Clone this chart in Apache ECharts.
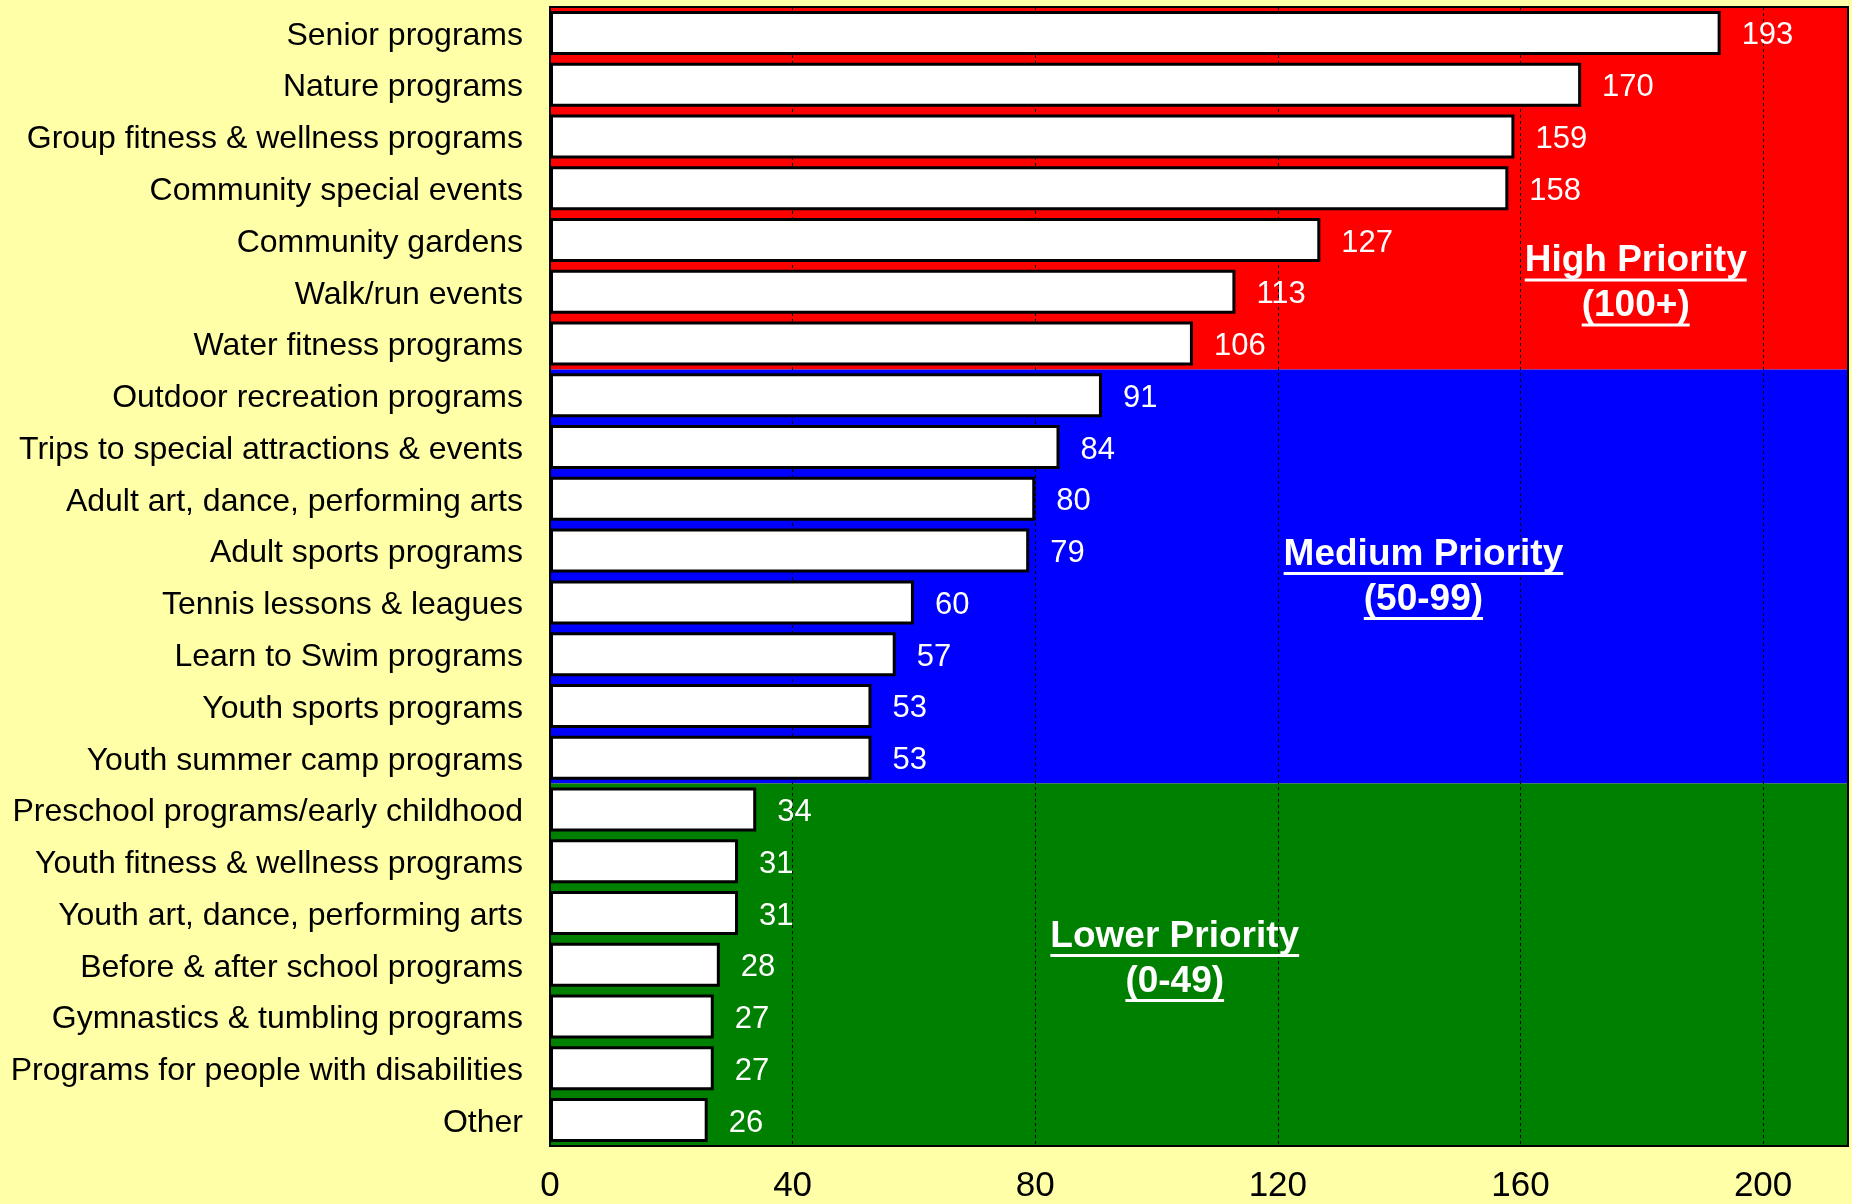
<!DOCTYPE html>
<html>
<head>
<meta charset="utf-8">
<script src="https://cdn.jsdelivr.net/npm/echarts@6/dist/echarts.min.js"></script>
<style>
  html, body { margin: 0; padding: 0; background: #ffffa8; }
  #chart { width: 1852px; height: 1204px; }
</style>
</head>
<body>
<div id="chart"></div>
<script>
const categories = [
  'Senior programs',
  'Nature programs',
  'Group fitness & wellness programs',
  'Community special events',
  'Community gardens',
  'Walk/run events',
  'Water fitness programs',
  'Outdoor recreation programs',
  'Trips to special attractions & events',
  'Adult art, dance, performing arts',
  'Adult sports programs',
  'Tennis lessons & leagues',
  'Learn to Swim programs',
  'Youth sports programs',
  'Youth summer camp programs',
  'Preschool programs/early childhood',
  'Youth fitness & wellness programs',
  'Youth art, dance, performing arts',
  'Before & after school programs',
  'Gymnastics & tumbling programs',
  'Programs for people with disabilities',
  'Other'
]
const counts = [193, 170, 159, 158, 127, 113, 106, 91, 84, 80, 79, 60, 57, 53, 53, 34, 31, 31, 28, 27, 27, 26]
const xTicks = [0, 40, 80, 120, 160, 200]
const axisMax = 214
const zoneTitles = ['High Priority', 'Medium Priority', 'Lower Priority']
const zoneRanges = ['(100+)', '(50-99)', '(0-49)']
const zoneFloors = [100, 50, 0]

const zoneColors = ['#ff0000', '#0000ff', '#008000']
const font = '"Liberation Sans", Arial, sans-serif'

const zoneOf = v => zoneFloors.findIndex(f => v >= f)

// row spans of each priority zone (rows are in sorted order)
const zoneAreas = zoneFloors.map((f, i) => {
  const rows = counts.map((v, r) => zoneOf(v) === i ? r : -1).filter(r => r >= 0)
  return [
    { xAxis: 0, yAxis: rows[0], itemStyle: { color: zoneColors[i], opacity: 1 } },
    { xAxis: axisMax, yAxis: rows[rows.length - 1] + 1 }
  ]
})

const chart = echarts.init(document.getElementById('chart'))
chart.setOption({
  backgroundColor: '#ffffa8',
  animation: false,
  grid: {
    left: 550,
    right: 4,
    top: 7,
    bottom: 58,
    show: true,
    backgroundColor: 'transparent',
    borderColor: '#000',
    borderWidth: 2,
    z: 10
  },
  xAxis: {
    type: 'value',
    min: 0,
    max: axisMax,
    interval: 40,
    z: 2,
    axisLine: { show: false },
    axisTick: { show: false },
    axisLabel: {
      color: '#000',
      fontSize: 35,
      fontFamily: font,
      margin: 23,
      formatter: v => xTicks.includes(v) ? String(v) : ''
    },
    splitLine: {
      lineStyle: { color: '#000', width: 1, type: [3, 3] }
    }
  },
  yAxis: [{
    type: 'category',
    data: categories,
    inverse: true,
    axisLine: { show: false },
    axisTick: { show: false },
    splitLine: { show: false },
    axisLabel: {
      interval: 0,
      color: '#000',
      fontSize: 32,
      fontFamily: font,
      margin: 27,
      verticalAlign: 'top',
      lineHeight: 6
    }
  }, {
    // row index axis for the priority bands
    type: 'value',
    min: 0,
    max: categories.length,
    inverse: true,
    show: false
  }],
  series: [{
    type: 'line',
    xAxisIndex: 0,
    yAxisIndex: 1,
    data: [],
    silent: true,
    z: 1,
    markArea: { silent: true, data: zoneAreas }
  }, {
    type: 'bar',
    yAxisIndex: 0,
    barWidth: '85%',
    z: 3,
    data: counts,
    itemStyle: {
      color: '#ffffff',
      borderColor: '#000',
      borderWidth: 3
    },
    label: {
      show: true,
      position: 'right',
      distance: 21,
      color: '#ffffff',
      fontSize: 31,
      fontFamily: font,
      verticalAlign: 'top',
      lineHeight: 6
    }
  }]
})

// priority annotations, placed in data space
const labelX = [179, 144, 103]
const labelRow = [5.34, 11.01, 18.39]
const ctx = document.createElement('canvas').getContext('2d')
const annFont = 'bold 37px ' + font
ctx.font = annFont
const graphics = []
zoneTitles.forEach((title, i) => {
  const [cx, cy] = chart.convertToPixel({ xAxisIndex: 0, yAxisIndex: 1 }, [labelX[i], labelRow[i]])
  const lines = [title, zoneRanges[i]]
  lines.forEach((t, k) => {
    const y = cy + (k - 0.5) * 45
    const w = ctx.measureText(t).width
    graphics.push({
      type: 'text', x: cx, y: y, z: 20,
      style: { text: t, fill: '#fff', font: annFont, textAlign: 'center', textVerticalAlign: 'middle' }
    })
    graphics.push({
      type: 'line', z: 20,
      shape: { x1: cx - w / 2, y1: y + 19, x2: cx + w / 2, y2: y + 19 },
      style: { stroke: '#fff', lineWidth: 3 }
    })
  })
})
chart.setOption({ graphic: graphics })
</script>
</body>
</html>
